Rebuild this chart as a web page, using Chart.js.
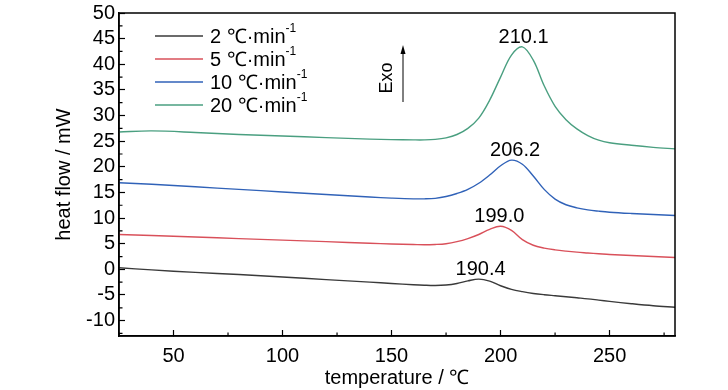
<!DOCTYPE html>
<html>
<head>
<meta charset="utf-8">
<script src="https://cdn.jsdelivr.net/npm/chart.js@4"></script>
<style>
  body { margin: 0; background: #fff; }
  #wrap { width: 728px; height: 390px; }
</style>
</head>
<body>
<div id="wrap"><canvas id="dsc"></canvas></div>
<script>
// temperature (°C) shared by all curves
var temps = [25, 40, 60, 80, 100, 120, 140, 150, 160, 165, 170, 175, 180, 185, 190, 195, 200, 205, 210, 215, 220, 225, 230, 235, 240, 245, 250, 260, 270, 280];

var rate2  = [0.3, -0.1, -0.6, -1.0, -1.5, -2.0, -2.5, -2.75, -3.0, -3.1, -3.15, -3.05, -2.75, -2.25, -1.9, -2.3, -3.2, -3.9, -4.35, -4.7, -4.95, -5.15, -5.35, -5.55, -5.75, -6.0, -6.25, -6.7, -7.1, -7.4];
var rate5  = [6.8, 6.6, 6.3, 6.0, 5.7, 5.4, 5.1, 4.95, 4.85, 4.8, 4.85, 5.0, 5.4, 6.0, 6.8, 7.8, 8.4, 7.6, 5.8, 4.7, 4.15, 3.8, 3.55, 3.35, 3.2, 3.05, 2.9, 2.7, 2.5, 2.3];
var rate10 = [16.9, 16.6, 16.1, 15.6, 15.1, 14.6, 14.1, 13.9, 13.75, 13.75, 13.85, 14.2, 14.8, 15.6, 16.8, 18.4, 20.2, 21.3, 20.5, 18.2, 15.6, 13.7, 12.6, 12.0, 11.6, 11.35, 11.15, 10.9, 10.7, 10.5];
var rate20 = [26.8, 27.0, 26.7, 26.3, 26.0, 25.7, 25.4, 25.3, 25.25, 25.25, 25.35, 25.65, 26.3, 27.5, 29.5, 33.0, 37.5, 41.8, 43.4, 40.8, 35.8, 31.8, 29.2, 27.4, 26.1, 25.2, 24.7, 24.2, 23.8, 23.5];

var seriesNames = ['2 \u2103\u00b7min', '5 \u2103\u00b7min', '10 \u2103\u00b7min', '20 \u2103\u00b7min'];
var colors = ['#3a3a3a', '#d9505a', '#3062b8', '#4a9f80'];

// peak labels
var peakTemps = [190.4, 199.0, 206.2, 210.1];
var peakVals = [-1.9, 8.4, 21.3, 43.4];

var allSeries = [rate2, rate5, rate10, rate20];
var FONT = 'Liberation Sans, Arial, sans-serif';

var makeSet = function(vals, i) {
    return {
        label: seriesNames[i],
        data: temps.map(function(t, k) { return {x: t, y: vals[k]}; }),
        borderColor: colors[i],
        borderWidth: 1.4,
        pointRadius: 0,
        fill: false,
        tension: 0.35
    };
};

var extras = {
    id: 'extras',
    afterDraw: function(chart) {
        var c = chart.ctx, a = chart.chartArea;
        var xs = chart.scales.x, ys = chart.scales.y;
        c.save();
        // frame
        c.strokeStyle = '#000';
        c.lineWidth = 1.5;
        c.strokeRect(a.left, a.top, a.right - a.left, a.bottom - a.top);
        // minor ticks
        c.lineWidth = 1.2;
        c.beginPath();
        for (var v = -12.5; v < 50; v += 5) {
            var py = ys.getPixelForValue(v);
            c.moveTo(a.left, py); c.lineTo(a.left + 3.5, py);
        }
        for (var t = 25; t <= 275; t += 50) {
            var px = xs.getPixelForValue(t);
            c.moveTo(px, a.bottom); c.lineTo(px, a.bottom - 3.5);
        }
        c.stroke();
        // peak labels
        c.fillStyle = '#000';
        c.font = '20px ' + FONT;
        c.textAlign = 'center';
        c.textBaseline = 'alphabetic';
        for (var i = 0; i < peakTemps.length; i++) {
            c.fillText(peakTemps[i].toFixed(1), xs.getPixelForValue(peakTemps[i]) + 1, ys.getPixelForValue(peakVals[i]) - 4);
        }
        // legend
        c.textAlign = 'left';
        c.textBaseline = 'middle';
        var ly = [36, 59, 82, 105];
        for (var j = 0; j < seriesNames.length; j++) {
            c.strokeStyle = colors[j];
            c.lineWidth = 1.4;
            c.beginPath();
            c.moveTo(155, ly[j]); c.lineTo(203, ly[j]);
            c.stroke();
            c.font = '20px ' + FONT;
            c.fillText(seriesNames[j], 210, ly[j] + 1);
            var w = c.measureText(seriesNames[j]).width;
            c.font = '12px ' + FONT;
            c.fillText('-1', 210 + w, ly[j] - 7);
        }
        // Exo arrow
        c.strokeStyle = '#000';
        c.lineWidth = 1;
        c.beginPath();
        c.moveTo(403, 102); c.lineTo(403, 52);
        c.stroke();
        c.beginPath();
        c.moveTo(403, 45); c.lineTo(400.5, 54); c.lineTo(405.5, 54); c.closePath();
        c.fill();
        c.translate(387, 78);
        c.rotate(-Math.PI / 2);
        c.font = '18px ' + FONT;
        c.textAlign = 'center';
        c.fillText('Exo', 0, 0);
        c.restore();
    }
};

new Chart(document.getElementById('dsc'), {
    type: 'line',
    data: { datasets: allSeries.map(makeSet) },
    options: {
        responsive: true,
        maintainAspectRatio: false,
        animation: false,
        layout: { padding: { top: 13, right: 53, left: 0, bottom: 0 } },
        plugins: { legend: { display: false }, tooltip: { enabled: false } },
        scales: {
            x: {
                type: 'linear',
                min: 25, max: 280,
                afterBuildTicks: function(s) { s.ticks = [50, 100, 150, 200, 250].map(function(v) { return {value: v}; }); },
                ticks: { color: '#000', font: { family: FONT, size: 20 }, padding: 14, maxRotation: 0, autoSkip: false },
                grid: { drawOnChartArea: false, tickLength: -6, tickColor: '#000', tickWidth: 1.2 },
                border: { color: '#000', width: 1.5 },
                title: { display: true, text: 'temperature / \u2103', color: '#000', font: { family: FONT, size: 20 }, padding: { top: 3, bottom: 0 } },
                afterFit: function(s) { s.height = 54; }
            },
            y: {
                min: -13, max: 50,
                afterBuildTicks: function(s) {
                    var t = [];
                    for (var v = -10; v <= 50; v += 5) t.push({value: v});
                    s.ticks = t;
                },
                ticks: { color: '#000', font: { family: FONT, size: 20 }, padding: 10, autoSkip: false },
                grid: { drawOnChartArea: false, tickLength: -6, tickColor: '#000', tickWidth: 1.2 },
                border: { color: '#000', width: 1.5 },
                title: { display: true, text: 'heat flow / mW', color: '#000', font: { family: FONT, size: 20 }, padding: { top: 52, bottom: 0 } },
                afterFit: function(s) { s.width = 119; s.paddingTop = 0; s.paddingBottom = 0; }
            }
        }
    },
    plugins: [extras]
});
</script>
</body>
</html>
